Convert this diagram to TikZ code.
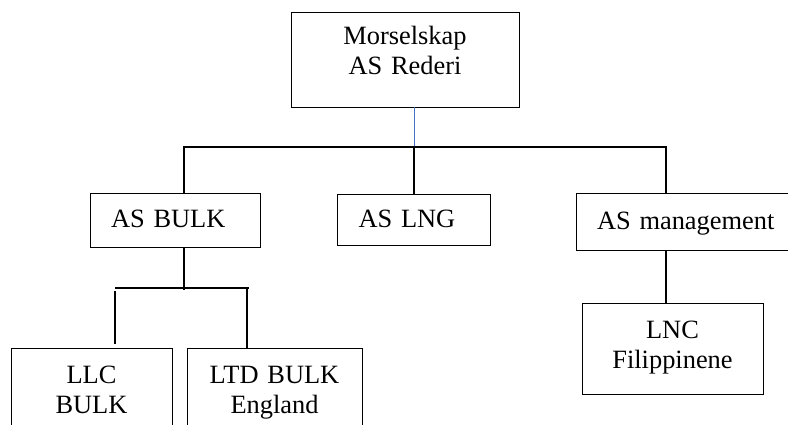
\documentclass[tikz,border=0pt]{standalone}
\usepackage{fontspec}
\setmainfont{Liberation Serif}
\begin{document}
\begin{tikzpicture}[x=1pt, y=-1pt,
  box/.style={draw, line width=0.8pt, inner xsep=21pt, inner ysep=0pt, font=\fontsize{26.4}{30}\selectfont, text height=18pt},
  onebox/.style={box, align=left, text depth=2pt},
  twobox/.style={box, align=center},
  link/.style={line width=1.5pt}]
\useasboundingbox (0,0) rectangle (788,425);
\clip (0,0) rectangle (788,425);
\node[twobox, text width=186pt, minimum height=95pt, text depth=47pt] (mor) at (405,59.5) {Morselskap\\AS Rederi};
\node[onebox, text width=128pt, minimum height=54pt] (bulk) at (175,220) {AS BULK};
\node[onebox, text width=111pt, minimum height=51pt] (lng) at (414,219.5) {AS LNG};
\node[onebox, text width=180pt, minimum height=57pt] (mgmt) at (687,221.5) {AS management};
\node[twobox, text width=119pt, minimum height=92pt, text depth=40pt] (llc) at (91.5,394) {LLC\\BULK};
\node[twobox, text width=133pt, minimum height=92pt, text depth=40pt] (ltd) at (274.5,394) {LTD BULK\\England};
\node[twobox, text width=139pt, minimum height=91pt, text depth=39pt] (lnc) at (672.5,348.5) {LNC\\Filippinene};
\coordinate (barL) at (184,147);
\coordinate (barR) at (666,147);
\coordinate (subC) at (184,290);
\coordinate (subL) at (115,288);
\coordinate (subR) at (249,288);
\draw[line width=1pt, color={rgb,255:red,68;green,114;blue,196}] (mor.south -| lng.north) -- (barL -| lng.north);
\draw[link] (bulk.north -| barL) -- (barL) -- (barR) -- (mgmt.north -| barR);
\draw[link] (barL -| lng.north) -- (lng.north);
\draw[link] (bulk.south -| subC) -- (subC);
\draw[link] (subL) -- (subR);
\draw[link] ([yshift=-3pt]subL) -- (115,344);
\draw[link] (247,289) -- (ltd.north -| 247,0);
\draw[link] (mgmt.south -| barR) -- (lnc.north -| barR);
\end{tikzpicture}
\end{document}
